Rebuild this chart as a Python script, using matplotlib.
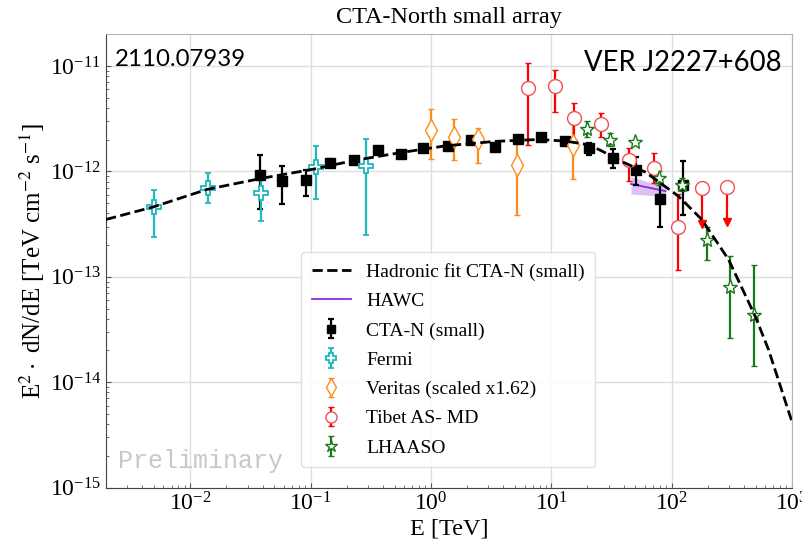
import numpy as np
import matplotlib.pyplot as plt

plt.rcParams['font.family'] = 'Liberation Serif'
plt.rcParams['mathtext.fontset'] = 'stix'
plt.rcParams['xtick.direction'] = 'in'
plt.rcParams['ytick.direction'] = 'in'

# hadronic fit
fit_E = [0.002, 0.005, 0.0138, 0.0388, 0.101, 0.23, 0.564, 1.33, 3.46, 7.87, 13.1,
         20.5, 26.4, 38.5, 60.5, 114, 178, 297, 495, 638, 1000]
fit_F = [3.5e-13, 4.62e-13, 6.75e-13, 8.58e-13, 1.04e-12, 1.27e-12, 1.51e-12, 1.75e-12,
         1.93e-12, 2.01e-12, 1.94e-12, 1.79e-12, 1.56e-12, 1.24e-12, 9.85e-13, 5.82e-13,
         3.5e-13, 1.46e-13, 4.22e-14, 2.04e-14, 4.2e-15]

# CTA-N (small)
cta_E = [0.038, 0.058, 0.091, 0.145, 0.23, 0.365, 0.56, 0.86, 1.38, 2.16, 3.39, 5.27,
         8.28, 13.1, 20.4, 32.3, 50.5, 80.4, 125]
cta_F = [9.3e-13, 8.1e-13, 8.2e-13, 1.21e-12, 1.28e-12, 1.58e-12, 1.47e-12, 1.68e-12,
         1.74e-12, 1.97e-12, 1.70e-12, 2.01e-12, 2.12e-12, 1.94e-12, 1.68e-12, 1.35e-12,
         1.04e-12, 5.5e-13, 7.4e-13]
cta_hi = [1.42e-12, 1.12e-12, 1.04e-12, 1.30e-12, 1.36e-12, 1.63e-12, 1.51e-12, 1.72e-12,
          1.78e-12, 2.02e-12, 1.75e-12, 2.06e-12, 2.18e-12, 2.05e-12, 1.87e-12, 1.64e-12,
          1.37e-12, 8.0e-13, 1.25e-12]
cta_lo = [4.4e-13, 4.9e-13, 5.8e-13, 1.12e-12, 1.20e-12, 1.53e-12, 1.43e-12, 1.64e-12,
          1.70e-12, 1.92e-12, 1.65e-12, 1.96e-12, 2.06e-12, 1.84e-12, 1.42e-12, 1.08e-12,
          7.5e-13, 3.0e-13, 3.9e-13]

# Fermi
fermi_E = [0.005, 0.014, 0.039, 0.11, 0.29]
fermi_F = [4.6e-13, 7.0e-13, 6.3e-13, 1.10e-12, 1.12e-12]
fermi_hi = [6.6e-13, 9.6e-13, 8.5e-13, 1.74e-12, 2.05e-12]
fermi_lo = [2.4e-13, 5.0e-13, 3.4e-13, 5.5e-13, 2.5e-13]

# Veritas (scaled x1.62)
ver_E = [1.0, 1.57, 2.45, 5.2, 15.1]
ver_F = [2.45e-12, 2.12e-12, 2.01e-12, 1.14e-12, 1.80e-12]
ver_hi = [3.88e-12, 3.17e-12, 2.60e-12, 1.90e-12, 2.79e-12]
ver_lo = [1.32e-12, 1.28e-12, 1.19e-12, 3.85e-13, 8.4e-13]

# Tibet AS-gamma MD
tib_E = [6.4, 10.8, 15.6, 26.0, 43.9, 71.1, 112]
tib_F = [6.24e-12, 6.46e-12, 3.24e-12, 2.84e-12, 1.27e-12, 1.08e-12, 2.96e-13]
tib_hi = [1.08e-11, 9.1e-12, 4.49e-12, 3.61e-12, 1.68e-12, 1.51e-12, 6.05e-13]
tib_lo = [1.77e-12, 3.66e-12, 2.0e-12, 2.14e-12, 8.1e-13, 7.8e-13, 1.17e-13]
tib_ul_E = [178, 287]
tib_ul_F = [7.0e-13, 7.16e-13]
tib_ul_end = [3.14e-13, 3.3e-13]

# LHAASO
lha_E = [19.8, 30.9, 49.2, 78.8, 123, 196, 306, 487]
lha_F = [2.54e-12, 1.98e-12, 1.90e-12, 8.7e-13, 7.4e-13, 2.21e-13, 8.0e-14, 4.3e-14]
lha_hi = [3.0e-12, 2.33e-12, 1.98e-12, 1.01e-12, 8.7e-13, 2.98e-13, 1.59e-13, 1.29e-13]
lha_lo = [2.14e-12, 1.74e-12, 1.82e-12, 7.5e-13, 6.5e-13, 1.44e-13, 2.6e-14, 1.42e-14]

# HAWC
hawc_E = [46, 89]
hawc_F = [7.6e-13, 6.5e-13]
hawc_hi = [8.9e-13, 7.1e-13]
hawc_lo = [6.1e-13, 5.8e-13]


def yerr(F, lo, hi):
    F = np.array(F)
    return [F - np.array(lo), np.array(hi) - F]


fig = plt.figure(figsize=(8.02, 5.51), dpi=100)
ax = fig.add_axes([0.1322, 0.1152, 0.8553, 0.8225])
ax.set_xscale('log')
ax.set_yscale('log')

eb = dict(linestyle='none', elinewidth=1.6, capsize=2, capthick=1.6, zorder=3)

fit_line, = ax.plot(fit_E, fit_F, '--', color='black', lw=2, zorder=4,
                    label='Hadronic fit CTA-N (small)')
ax.fill_between(hawc_E, hawc_lo, hawc_hi, color='#a64ce0', alpha=0.35, lw=0, zorder=2)
hawc_line, = ax.plot(hawc_E, hawc_F, color='#8a2be2', lw=1.3, zorder=2, label='HAWC')

h_cta = ax.errorbar(cta_E, cta_F, yerr=yerr(cta_F, cta_lo, cta_hi), color='black',
                    marker='s', ms=7, label='CTA-N (small)', **eb)
h_fermi = ax.errorbar(fermi_E, fermi_F, yerr=yerr(fermi_F, fermi_lo, fermi_hi),
                      color='#1fb8bd', marker='P', ms=9.5, mfc='white', mew=1.3,
                      label='Fermi', **eb)
h_ver = ax.errorbar(ver_E, ver_F, yerr=yerr(ver_F, ver_lo, ver_hi), color='#ff8c1a',
                    marker='d', ms=11, mfc='white', mew=1.0,
                    label='Veritas (scaled x1.62)', **eb)
h_tib = ax.errorbar(tib_E, tib_F, yerr=yerr(tib_F, tib_lo, tib_hi), color='red',
                    marker='o', ms=10, mfc='white', mec='#f05050', mew=1.0,
                    label='Tibet AS- MD', **eb)
ul_F = np.array(tib_ul_F)
ax.errorbar(tib_ul_E, tib_ul_F, yerr=[ul_F - np.array(tib_ul_end), np.zeros(2)],
            color='red', marker='o', ms=10, mfc='white', mec='#f05050', mew=1.0,
            linestyle='none', elinewidth=1.6, capsize=0, zorder=3)
ax.plot(tib_ul_E, tib_ul_end, linestyle='none', marker='v', ms=6, color='red', zorder=3)
h_lha = ax.errorbar(lha_E, lha_F, yerr=yerr(lha_F, lha_lo, lha_hi), color='#1a7a1a',
                    marker='*', ms=11, mfc='white', mew=1.0, label='LHAASO', **eb)

ax.set_xlim(2e-3, 1e3)
ax.set_ylim(1e-15, 2e-11)
ax.grid(True, which='major', color='#dedede', lw=1)
ax.set_axisbelow(True)
ax.tick_params(labelsize=17)
ax.tick_params(which='both', color='#555555')
for s in ['left', 'bottom']:
    ax.spines[s].set_color('#444444')
for s in ['top', 'right']:
    ax.spines[s].set_color('#b5b5b5')

ax.set_title('CTA-North small array', fontsize=17.5, pad=8)
ax.set_xlabel('E [TeV]', fontsize=17.5, labelpad=2)
ax.set_ylabel(r'E$^2\cdot$ dN/dE [TeV cm$^{-2}$ s$^{-1}$]', fontsize=18, labelpad=2)

ax.text(0.013, 0.930, '2110.07939', transform=ax.transAxes, family='Lato',
        fontsize=17.3, color='black')
ax.text(0.985, 0.918, 'VER J2227+608', transform=ax.transAxes, family='Lato',
        fontsize=19.8, color='black', ha='right')
ax.text(0.0175, 0.043, 'Preliminary', transform=ax.transAxes, family='Liberation Mono',
        fontsize=18, color='#c8c8c8')

leg = ax.legend(handles=[fit_line, hawc_line, h_cta, h_fermi, h_ver, h_tib, h_lha],
                loc='lower left', bbox_to_anchor=(0.27, 0.023), fontsize=14,
                frameon=True, fancybox=True, edgecolor='#dddddd', framealpha=0.9,
                labelspacing=0.6, borderpad=0.55, markerscale=0.8)

fig.savefig('out.png', dpi=100)
